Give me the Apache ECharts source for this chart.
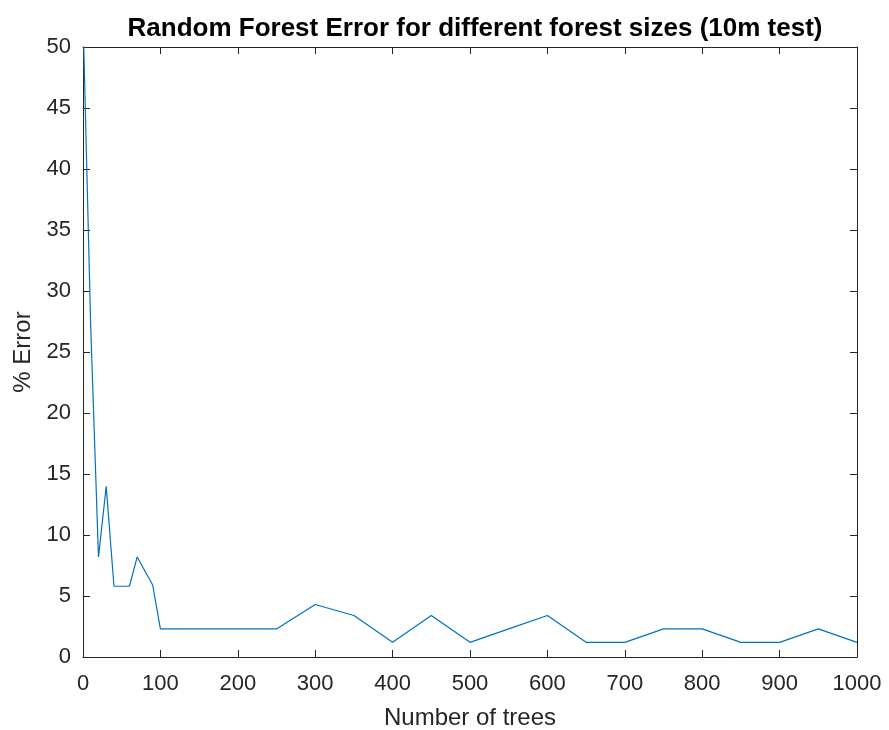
<!DOCTYPE html>
<html>
<head>
<meta charset="utf-8">
<script src="https://cdn.jsdelivr.net/npm/echarts@6/dist/echarts.min.js"></script>
<style>
  html, body { margin: 0; padding: 0; background: #fff; }
  #chart { width: 889px; height: 730px; }
</style>
</head>
<body>
<div id="chart"></div>
<script>
// Forest sizes (number of trees) and the measured error in percent
const trees = [1, 10, 20, 30, 40, 60, 70, 90, 100, 150, 200, 250, 300, 350, 400, 450, 500, 550, 600, 650, 700, 750, 800, 850, 900, 950, 1000];
const errorPct = [50, 27, 8.2, 14, 5.8, 5.8, 8.2, 5.9, 2.3, 2.3, 2.3, 2.3, 4.3, 3.4, 1.2, 3.4, 1.2, 2.3, 3.4, 1.2, 1.2, 2.3, 2.3, 1.2, 1.2, 2.3, 1.2];
const xTicks = [0, 100, 200, 300, 400, 500, 600, 700, 800, 900, 1000];
const yTicks = [0, 5, 10, 15, 20, 25, 30, 35, 40, 45, 50];

const axisColor = '#262626';
const fontFamily = '"Liberation Sans", Arial, Helvetica, sans-serif';

const chart = echarts.init(document.getElementById('chart'), null, { renderer: 'canvas' });

// Shared look for all four box edges: dark line, short inward ticks
const baseAxis = {
  type: 'value',
  axisLine: { show: true, onZero: false, lineStyle: { color: axisColor, width: 1 } },
  axisTick: { show: true, inside: true, length: 7, lineStyle: { color: axisColor, width: 1 } },
  splitLine: { show: false },
  axisLabel: { color: axisColor, fontSize: 22, fontFamily: fontFamily, formatter: v => String(v) }
};

const xRange = { min: xTicks[0], max: xTicks[xTicks.length - 1], interval: xTicks[1] - xTicks[0] };
const yRange = { min: yTicks[0], max: yTicks[yTicks.length - 1], interval: yTicks[1] - yTicks[0] };

chart.setOption({
  backgroundColor: '#ffffff',
  animation: false,
  title: {
    text: 'Random Forest Error for different forest sizes (10m test)',
    left: 470,
    textAlign: 'center',
    top: 11,
    textStyle: { color: '#000', fontSize: 26, fontWeight: 'bold', fontFamily: fontFamily }
  },
  grid: { left: 83, right: 32, top: 47, bottom: 73, containLabel: false, outerBoundsMode: 'none' },
  xAxis: [
    Object.assign({}, baseAxis, xRange, {
      position: 'bottom',
      name: 'Number of trees',
      nameLocation: 'middle',
      nameGap: 49,
      nameTextStyle: { color: axisColor, fontSize: 24, fontFamily: fontFamily },
      axisLabel: Object.assign({}, baseAxis.axisLabel, { margin: 16 })
    }),
    Object.assign({}, baseAxis, xRange, {
      position: 'top',
      axisLabel: { show: false }
    })
  ],
  yAxis: [
    Object.assign({}, baseAxis, yRange, {
      position: 'left',
      name: '% Error',
      nameLocation: 'middle',
      nameGap: 47,
      nameRotate: 90,
      nameTextStyle: { color: axisColor, fontSize: 24, fontFamily: fontFamily },
      axisLabel: Object.assign({}, baseAxis.axisLabel, { margin: 12 })
    }),
    Object.assign({}, baseAxis, yRange, {
      position: 'right',
      axisLabel: { show: false }
    })
  ],
  series: [{
    type: 'line',
    xAxisIndex: 0,
    yAxisIndex: 0,
    data: trees.map((t, i) => [t, errorPct[i]]),
    showSymbol: false,
    symbol: 'none',
    lineStyle: { color: '#0072BD', width: 1.2 },
    itemStyle: { color: '#0072BD' }
  }]
});
</script>
</body>
</html>
